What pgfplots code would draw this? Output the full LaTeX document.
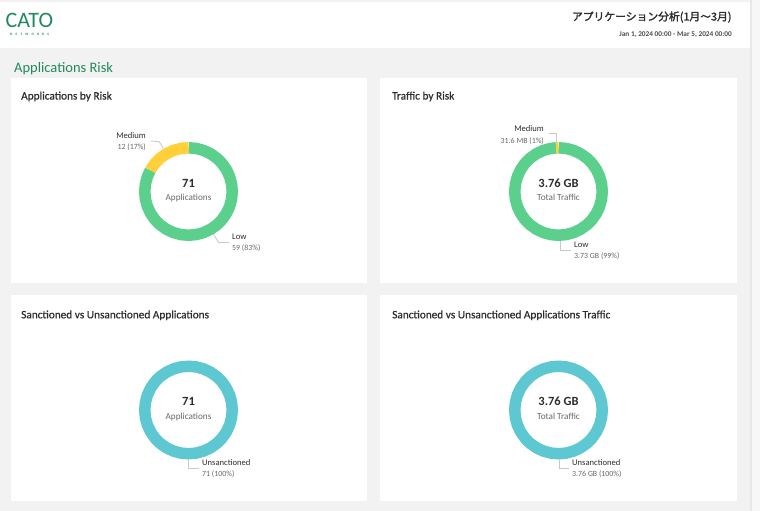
\documentclass[border=0pt]{standalone}
\usepackage{fontspec}
\setmainfont{Carlito}
\newfontfamily\jpfont{Noto Sans CJK JP}[FakeBold=2]
\newfontfamily\semib{Carlito}[FakeBold=0.5]
\usepackage{pgfplots}
\pgfplotsset{compat=1.18}
\usepgfplotslibrary{polar}
\definecolor{bg}{RGB}{242,242,242}
\definecolor{brand}{RGB}{32,138,92}
\definecolor{lowc}{RGB}{90,208,140}
\definecolor{medc}{RGB}{255,208,58}
\definecolor{unsc}{RGB}{93,200,210}
\definecolor{leader}{RGB}{200,200,200}
\definecolor{txt}{RGB}{45,45,45}
\definecolor{subt}{RGB}{105,105,105}
\newcommand{\ttl}{\semib\fontsize{11.3}{13}\selectfont\color{txt}}
\newcommand{\lab}{\fontsize{8.6}{10}\selectfont\color{txt}}
\newcommand{\sub}{\fontsize{7.9}{9}\selectfont\color{subt}}
\newcommand{\bignum}{\fontsize{12.5}{14}\selectfont\bfseries\color{txt}}
\newcommand{\ctr}{\fontsize{9.2}{11}\selectfont\color{subt}}
\pgfplotsset{donut/.style={hide axis, scale only axis, width=99pt, height=99pt,
  xmin=0, xmax=360, ymin=0, ymax=49.5, clip=false, anchor=center},
  ring/.style={no markers, line width=11.5pt, line join=round}}
\begin{document}
\begin{tikzpicture}
\begin{scope}[x=1pt,y=-1pt]
  \fill[bg] (0,0) rectangle (760,511);
  \fill[white] (0,2.5) rectangle (750,48);
  \fill[white!97!black] (752,0) rectangle (760,511);
  \fill[white!91!black] (750,0) rectangle (752,511);
  % logo
  \node[anchor=base west, inner sep=0, text=brand] at (5.5,27.5) {\fontsize{22}{22}\selectfont CATO};
  \node[anchor=base west, inner sep=0, text=brand] at (10,35.5) {\fontsize{3.4}{4}\selectfont\addfontfeature{LetterSpace=95}\bfseries NETWORKS};
  % header right
  \node[anchor=base east, inner sep=0, text=txt] at (731.7,20.5) {\jpfont\fontsize{10.8}{12}\selectfont アプリケーション分析(1月～3月)};
  \node[anchor=base east, inner sep=0, text=txt!85!white] at (732,36.5) {\fontsize{7.3}{9}\selectfont\bfseries Jan 1, 2024 00:00 - Mar 5, 2024 00:00};
  % section title
  \node[anchor=base west, inner sep=0, text=brand] at (14,72.5) {\fontsize{14.5}{16}\selectfont Applications Risk};
  % cards
  \fill[white] (11,78) rectangle (367.3,283.3);
  \fill[white] (380,78) rectangle (736.7,283.3);
  \fill[white] (11,294.7) rectangle (367.3,501);
  \fill[white] (380,294.7) rectangle (736.7,501);
  \node[anchor=base west, inner sep=0] at (21,99.5) {\ttl Applications by Risk};
  \node[anchor=base west, inner sep=0] at (392,99.5) {\ttl Traffic by Risk};
  \node[anchor=base west, inner sep=0] at (21,318.3) {\ttl Sanctioned vs Unsanctioned Applications};
  \node[anchor=base west, inner sep=0] at (392,318.3) {\ttl Sanctioned vs Unsanctioned Applications Traffic};
\end{scope}

% Applications by Risk: Low 59 (83%), Medium 12 (17%)
\begin{polaraxis}[donut, at={(188.5pt,-191.5pt)}]
\addplot[ring, lowc] coordinates {(90,43.75) (80,43.75) (70,43.75) (60,43.75) (50,43.75) (40,43.75) (30,43.75) (20,43.75) (10,43.75) (0,43.75) (-10,43.75) (-20,43.75) (-30,43.75) (-40,43.75) (-50,43.75) (-60,43.75) (-70,43.75) (-80,43.75) (-90,43.75) (-100,43.75) (-110,43.75) (-120,43.75) (-130,43.75) (-140,43.75) (-150,43.75) (-160,43.75) (-170,43.75) (-180,43.75) (-190,43.75) (-200,43.75) (-209.2,43.75)};
\addplot[ring, medc] coordinates {(-209.2,43.75) (-210,43.75) (-220,43.75) (-230,43.75) (-240,43.75) (-250,43.75) (-260,43.75) (-270,43.75)};
\end{polaraxis}

% Traffic by Risk: Low 3.73 GB (99%), Medium 31.6 MB (1%)
\begin{polaraxis}[donut, at={(558.5pt,-191.5pt)}]
\addplot[ring, lowc] coordinates {(90,43.75) (80,43.75) (70,43.75) (60,43.75) (50,43.75) (40,43.75) (30,43.75) (20,43.75) (10,43.75) (0,43.75) (-10,43.75) (-20,43.75) (-30,43.75) (-40,43.75) (-50,43.75) (-60,43.75) (-70,43.75) (-80,43.75) (-90,43.75) (-100,43.75) (-110,43.75) (-120,43.75) (-130,43.75) (-140,43.75) (-150,43.75) (-160,43.75) (-170,43.75) (-180,43.75) (-190,43.75) (-200,43.75) (-210,43.75) (-220,43.75) (-230,43.75) (-240,43.75) (-250,43.75) (-260,43.75) (-267,43.75)};
\addplot[ring, medc] coordinates {(-267,43.75) (-270,43.75)};
\end{polaraxis}

% Sanctioned vs Unsanctioned Applications: Unsanctioned 71 (100%)
\begin{polaraxis}[donut, at={(188.5pt,-410pt)}]
\addplot[ring, unsc] coordinates {(90,43.75) (80,43.75) (70,43.75) (60,43.75) (50,43.75) (40,43.75) (30,43.75) (20,43.75) (10,43.75) (0,43.75) (-10,43.75) (-20,43.75) (-30,43.75) (-40,43.75) (-50,43.75) (-60,43.75) (-70,43.75) (-80,43.75) (-90,43.75) (-100,43.75) (-110,43.75) (-120,43.75) (-130,43.75) (-140,43.75) (-150,43.75) (-160,43.75) (-170,43.75) (-180,43.75) (-190,43.75) (-200,43.75) (-210,43.75) (-220,43.75) (-230,43.75) (-240,43.75) (-250,43.75) (-260,43.75) (-270,43.75) (-280,43.75)};
\end{polaraxis}

% Sanctioned vs Unsanctioned Applications Traffic: Unsanctioned 3.76 GB (100%)
\begin{polaraxis}[donut, at={(558.5pt,-410pt)}]
\addplot[ring, unsc] coordinates {(90,43.75) (80,43.75) (70,43.75) (60,43.75) (50,43.75) (40,43.75) (30,43.75) (20,43.75) (10,43.75) (0,43.75) (-10,43.75) (-20,43.75) (-30,43.75) (-40,43.75) (-50,43.75) (-60,43.75) (-70,43.75) (-80,43.75) (-90,43.75) (-100,43.75) (-110,43.75) (-120,43.75) (-130,43.75) (-140,43.75) (-150,43.75) (-160,43.75) (-170,43.75) (-180,43.75) (-190,43.75) (-200,43.75) (-210,43.75) (-220,43.75) (-230,43.75) (-240,43.75) (-250,43.75) (-260,43.75) (-270,43.75) (-280,43.75)};
\end{polaraxis}

\begin{scope}[x=1pt,y=-1pt]
  % leaders
  \draw[leader, line width=0.8pt] (150.7,141) -- (159.3,141.7) -- (163.3,148.3);
  \draw[leader, line width=0.8pt] (213.5,234) -- (218.5,242.5) -- (229,242.5);
  \draw[leader, line width=0.8pt] (549,133) -- (556.8,133) -- (556.8,142);
  \draw[leader, line width=0.8pt] (560.3,241) -- (560.3,250) -- (570.7,250);
  \draw[leader, line width=0.8pt] (188.7,459) -- (188.7,468.3) -- (199,468.3);
  \draw[leader, line width=0.8pt] (559,459) -- (559,468.3) -- (569,468.3);
  % donut 1 labels
  \node[anchor=base east, inner sep=0] at (146,138.7) {\lab Medium};
  \node[anchor=base east, inner sep=0] at (146,149.3) {\sub 12 (17\%)};
  \node[anchor=base west, inner sep=0] at (232,239.7) {\lab Low};
  \node[anchor=base west, inner sep=0] at (232,250.7) {\sub 59 (83\%)};
  \node[anchor=base, inner sep=0] at (188.5,187.3) {\bignum 71};
  \node[anchor=base, inner sep=0] at (188.5,200.7) {\ctr Applications};
  % donut 2 labels
  \node[anchor=base east, inner sep=0] at (544,131) {\lab Medium};
  \node[anchor=base east, inner sep=0] at (544,143.3) {\sub 31.6 MB (1\%)};
  \node[anchor=base west, inner sep=0] at (574,247.7) {\lab Low};
  \node[anchor=base west, inner sep=0] at (574,258) {\sub 3.73 GB (99\%)};
  \node[anchor=base, inner sep=0] at (558.5,187.3) {\bignum 3.76 GB};
  \node[anchor=base, inner sep=0] at (558.5,200.7) {\ctr Total Traffic};
  % donut 3 labels
  \node[anchor=base west, inner sep=0] at (202,465.7) {\lab Unsanctioned};
  \node[anchor=base west, inner sep=0] at (202,476.7) {\sub 71 (100\%)};
  \node[anchor=base, inner sep=0] at (188.5,405.7) {\bignum 71};
  \node[anchor=base, inner sep=0] at (188.5,419) {\ctr Applications};
  % donut 4 labels
  \node[anchor=base west, inner sep=0] at (572,465.7) {\lab Unsanctioned};
  \node[anchor=base west, inner sep=0] at (572,476.7) {\sub 3.76 GB (100\%)};
  \node[anchor=base, inner sep=0] at (558.5,405.7) {\bignum 3.76 GB};
  \node[anchor=base, inner sep=0] at (558.5,419) {\ctr Total Traffic};
\end{scope}
\pgfresetboundingbox
\path (0pt,0pt) rectangle (760pt,-511pt);
\end{tikzpicture}
\end{document}
